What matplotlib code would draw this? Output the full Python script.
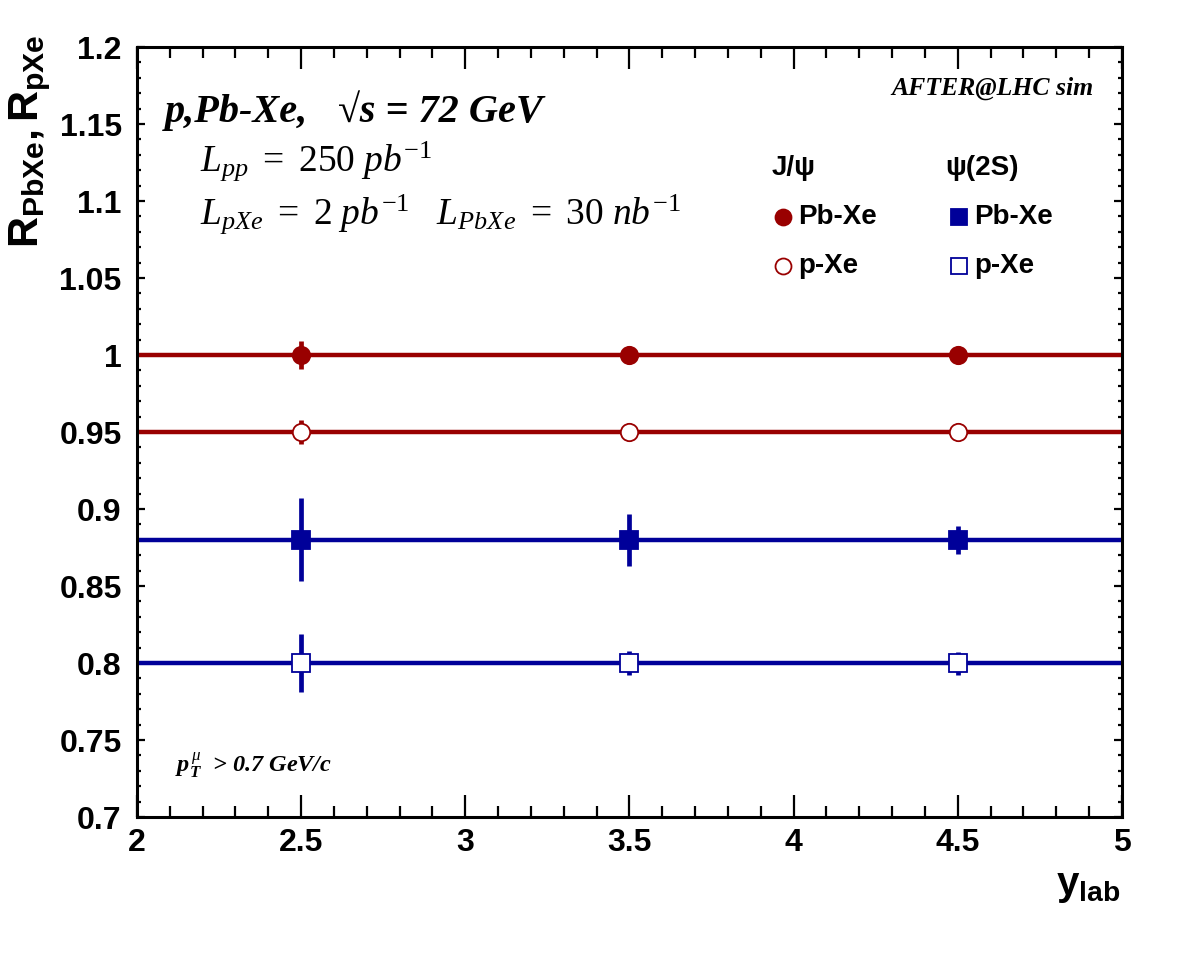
import matplotlib
matplotlib.use("Agg")
import matplotlib.pyplot as plt
from matplotlib.ticker import MultipleLocator

plt.rcParams['mathtext.fontset'] = 'custom'
plt.rcParams['mathtext.rm'] = 'Liberation Serif'
plt.rcParams['mathtext.it'] = 'Liberation Serif:italic'
plt.rcParams['mathtext.bf'] = 'Liberation Sans:bold'
plt.rcParams['mathtext.bfit'] = 'Liberation Serif:bold:italic'

# data
y_lab = [2.5, 3.5, 4.5]
jpsi_pbxe = [1.0, 1.0, 1.0]
jpsi_pbxe_err = [0.009, 0.002, 0.001]
jpsi_pxe = [0.95, 0.95, 0.95]
jpsi_pxe_err = [0.008, 0.002, 0.002]
psi2s_pbxe = [0.88, 0.88, 0.88]
psi2s_pbxe_err = [0.027, 0.017, 0.009]
psi2s_pxe = [0.80, 0.80, 0.80]
psi2s_pxe_err = [0.019, 0.008, 0.0075]

red = '#990000'
blue = '#000099'

fig = plt.figure(figsize=(11.82, 9.61), dpi=100)
ax = fig.add_axes([0.1159, 0.1498, 0.8333, 0.8012])

series = [
    (jpsi_pbxe, jpsi_pbxe_err, red, 'o', red),
    (jpsi_pxe, jpsi_pxe_err, red, 'o', 'white'),
    (psi2s_pbxe, psi2s_pbxe_err, blue, 's', blue),
    (psi2s_pxe, psi2s_pxe_err, blue, 's', 'white'),
]
for vals, errs, col, mk, face in series:
    ax.axhline(vals[0], color=col, lw=3.2, zorder=2)
    ax.errorbar(y_lab, vals, yerr=errs, fmt=mk, color=col, ecolor=col,
                elinewidth=3.4, capsize=0, ms=12.5, mfc=face, mec=col,
                mew=1.3, zorder=3)

ax.set_xlim(2, 5)
ax.set_ylim(0.7, 1.2)
ax.xaxis.set_major_locator(MultipleLocator(0.5))
ax.xaxis.set_minor_locator(MultipleLocator(0.1))
ax.yaxis.set_major_locator(MultipleLocator(0.05))
ax.yaxis.set_minor_locator(MultipleLocator(0.01))
ax.xaxis.set_major_formatter(plt.FuncFormatter(lambda v, p: f'{v:g}'))
ax.yaxis.set_major_formatter(plt.FuncFormatter(lambda v, p: f'{v:g}'))

ax.tick_params(axis='both', which='both', direction='in', top=True, right=True,
               width=1.6, labelsize=23)
ax.tick_params(axis='x', which='major', length=16, pad=8)
ax.tick_params(axis='x', which='minor', length=8)
ax.tick_params(axis='y', which='major', length=6, pad=11)
ax.tick_params(axis='y', which='minor', length=3)
for lab in ax.get_xticklabels() + ax.get_yticklabels():
    lab.set_fontfamily('Liberation Sans')
    lab.set_fontweight('bold')
for sp in ax.spines.values():
    sp.set_linewidth(2.2)

# axis titles
ax.text(-0.1086, 1.016, r'$\mathbf{R_{PbXe},R_{pXe}}$', transform=ax.transAxes,
        rotation=90, ha='center', va='top', fontsize=31)
ax.text(0.998, -0.088, r'$\mathbf{y_{lab}}$', transform=ax.transAxes,
        ha='right', va='center', fontsize=29)

# annotations
ax.text(0.0284, 0.9026, 'p,Pb-Xe,   √s = 72 GeV', transform=ax.transAxes,
        family=['Liberation Serif', 'DejaVu Serif'], weight='bold', style='italic',
        fontsize=29, va='baseline')
ax.text(0.064, 0.840, r'$\mathit{L_{pp}\ =\ 250\ pb^{-1}}$', transform=ax.transAxes,
        fontsize=27, va='baseline')
ax.text(0.064, 0.771, r'$\mathit{L_{pXe}\ =\ 2\ pb^{-1}\ \ \ L_{PbXe}\ =\ 30\ nb^{-1}}$',
        transform=ax.transAxes, fontsize=27, va='baseline')
ax.text(0.9706, 0.9377, 'AFTER@LHC sim', transform=ax.transAxes,
        family='Liberation Serif', weight='bold', style='italic',
        fontsize=18.5, ha='right', va='baseline')
ax.text(0.039, 0.058, r'$\mathbfit{p}_{\mathbfit{T}}^{\,\mu}$  > 0.7 GeV/c', transform=ax.transAxes,
        family='Liberation Serif', weight='bold', style='italic',
        fontsize=17.5, va='baseline')

# legend
leg_font = dict(family='Liberation Sans', weight='bold', fontsize=20,
                transform=ax.transAxes, va='center')
ax.text(0.6447, 0.843, 'J/ψ', **leg_font)
ax.text(0.8203, 0.843, 'ψ(2S)', **leg_font)
entries = [
    (0.656, 0.779, 'o', red, red, 'Pb-Xe'),
    (0.656, 0.7156, 'o', red, 'white', 'p-Xe'),
    (0.8345, 0.779, 's', blue, blue, 'Pb-Xe'),
    (0.8345, 0.7156, 's', blue, 'white', 'p-Xe'),
]
for x, y, mk, col, face, name in entries:
    ax.plot([x], [y], marker=mk, ms=11.5, mfc=face, mec=col, mew=1.3,
            transform=ax.transAxes, clip_on=False)
    ax.text(x + 0.0155, y, name, **leg_font)

fig.savefig('out.png', dpi=100)
